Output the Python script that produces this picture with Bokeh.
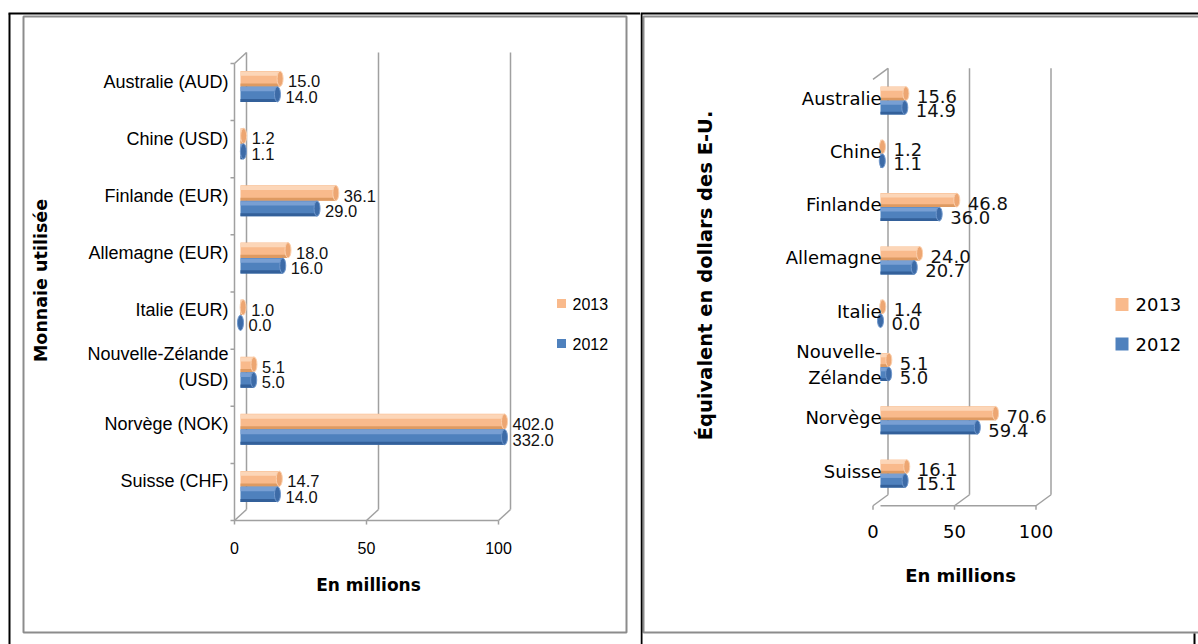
import math
from bokeh.plotting import figure
from bokeh.models import Range1d, ColumnDataSource
from bokeh.layouts import row
from bokeh.embed import file_html
from bokeh.resources import INLINE
from bokeh.core.properties import value

# ---------------- data ----------------
left_categories = ["Australie (AUD)", "Chine (USD)", "Finlande (EUR)", "Allemagne (EUR)",
                   "Italie (EUR)", "Nouvelle-Zélande\n(USD)", "Norvège (NOK)", "Suisse (CHF)"]
left_2013 = [15.0, 1.2, 36.1, 18.0, 1.0, 5.1, 402.0, 14.7]
left_2012 = [14.0, 1.1, 29.0, 16.0, 0.0, 5.0, 332.0, 14.0]

right_categories = ["Australie", "Chine", "Finlande", "Allemagne", "Italie",
                    "Nouvelle-\nZélande", "Norvège", "Suisse"]
right_2013 = [15.6, 1.2, 46.8, 24.0, 1.4, 5.1, 70.6, 16.1]
right_2012 = [14.9, 1.1, 36.0, 20.7, 0.0, 5.0, 59.4, 15.1]

x_ticks = [0, 50, 100]
x_max = 100
series_names = ["2013", "2012"]
x_title = "En millions"
left_y_title = "Monnaie utilisée"
right_y_title = "Équivalent en dollars des E-U."

# ---------------- styles ----------------
ORANGE = dict(main="#F9BA8C", light="#FCD6B8", dark="#DE9A62", cap="#EDA672", rim="#FBD0AE")
BLUE = dict(main="#4F81BD", light="#789FD3", dark="#33609A", cap="#3D6BA7", rim="#6F97CC")
GRID = "#a0a0a0"
FRAME = "#8c8c8c"
H = 644

LEFT = dict(W=640, x0=240, sx=2.64, y0=86, sy=57.14, hx=6, hy=5.5, bh=15.5,
            lab_dx=8, lab_dy=2.5, lab_font="Liberation Sans", lab_size="16.5px",
            cat_dx=-6, cat_dy=-5, cat_font="Liberation Sans", cat_size="18px", cat_lh=1.3,
            tick_font="Liberation Sans", tick_size="16px", tick_dy=27, front_wall=True,
            title_font="DejaVu Sans", xt=(368, 584), xt_size="17px",
            yt=(40, 280), yt_size="17.5px", ytitle=left_y_title,
            leg_sq=(561, 9), leg_x=572, leg_y=(303, 343), leg_font="Liberation Sans", leg_size="16px",
            cap_w=6)
RIGHT = dict(W=558, x0=240, sx=1.63, y0=100, sy=53.3, hx=7.5, hy=5.5, bh=14,
             lab_dx=11, lab_dy=3, lab_font="DejaVu Sans", lab_size="18px",
             cat_dx=1, cat_dy=-2.5, cat_font="DejaVu Sans", cat_size="18px", cat_lh=1.25,
             tick_font="DejaVu Sans", tick_size="18px", tick_dy=26, front_wall=False,
             title_font="DejaVu Sans", xt=(320, 575), xt_size="18px",
             yt=(65, 275), yt_size="19.5px", ytitle=right_y_title,
             leg_sq=(481.5, 13), leg_x=495, leg_y=(304, 343.5), leg_font="DejaVu Sans", leg_size="18px",
             cap_w=6)


def make_panel(cfg, categories, v2013, v2012):
    W = cfg["W"]
    sx, sy, x0, y0 = cfg["sx"], cfg["sy"], cfg["x0"], cfg["y0"]
    hx, hy = cfg["hx"] / sx, cfg["hy"] / sy
    n = len(categories)
    p = figure(width=W, height=H,
               x_range=Range1d(-x0 / sx, (W - x0) / sx),
               y_range=Range1d((H - y0) / sy, -y0 / sy),
               x_axis_type=None, y_axis_type=None,
               output_backend="svg", toolbar_location=None,
               min_border=0, outline_line_color=None,
               background_fill_color="white", border_fill_color="white")
    p.extra_x_ranges = {"px": Range1d(0, W)}
    p.extra_y_ranges = {"px": Range1d(H, 0)}

    # ---- 3D walls ----
    y_top_b = -0.5 - hy
    y_bot_b = n - 0.5 - hy
    y_top_f = -0.5 + hy
    y_bot_f = n - 0.5 + hy
    segs = dict(x0=[], y0=[], x1=[], y1=[])

    def seg(a, b, c, d):
        segs["x0"].append(a); segs["y0"].append(b); segs["x1"].append(c); segs["y1"].append(d)

    for t in x_ticks:
        seg(t + hx, y_top_b, t + hx, y_bot_b)           # back wall line
        seg(t - hx, y_bot_f, t + hx, y_bot_b)           # floor diagonal
        seg(t - hx, y_bot_f, t - hx, y_bot_f + 4 / sy)  # tick mark
    floor_start = -hx if cfg["front_wall"] else 0
    seg(floor_start, y_bot_f, x_max - hx, y_bot_f)
    seg(-hx, y_top_f, hx, y_top_b)                      # top slant
    if cfg["front_wall"]:
        seg(-hx, y_top_f, -hx, y_bot_f)
        for k in range(n + 1):
            yk = k - 0.5 + hy
            seg(-hx, yk, -hx - 4 / sx, yk)
    p.segment(x0="x0", y0="y0", x1="x1", y1="y1", source=ColumnDataSource(segs),
              line_color=GRID, line_width=1.5)

    # ---- bars ----
    bh = cfg["bh"] / sy
    for name, vals, col, off in [(series_names[0], v2013, ORANGE, -bh / 2),
                                 (series_names[1], v2012, BLUE, bh / 2)]:
        yc = [i + off for i in range(n)]
        vc = [min(v, x_max) for v in vals]
        p.hbar(y=yc, left=0, right=vc, height=bh, fill_color=col["main"], line_color=None)
        p.hbar(y=[y - bh * 0.33 for y in yc], left=0, right=vc, height=bh * 0.28,
               fill_color=col["light"], line_color=None)
        p.hbar(y=[y + bh * 0.40 for y in yc], left=0, right=vc, height=bh * 0.2,
               fill_color=col["dark"], line_color=None)
        p.ellipse(x=vc, y=yc, width=cfg["cap_w"], width_units="screen", height=bh * 0.98,
                  fill_color=col["cap"], line_color=col["rim"], line_width=1)
        p.text(x=vc, y=[y + cfg["lab_dy"] / sy for y in yc], text=[f"{v:.1f}" for v in vals],
               x_offset=cfg["lab_dx"], text_align="left", text_baseline="middle",
               text_font=value(cfg["lab_font"]), text_font_size=cfg["lab_size"], text_color="#111111")

    # ---- category labels ----
    cat_x = -hx if cfg["front_wall"] else 0
    p.text(x=[cat_x] * n, y=[i + cfg["cat_dy"] / sy for i in range(n)], text=categories,
           x_offset=cfg["cat_dx"], text_align="right", text_baseline="middle",
           text_font=value(cfg["cat_font"]), text_font_size=cfg["cat_size"],
           text_line_height=cfg["cat_lh"], text_color="#000000")

    # ---- x tick labels ----
    p.text(x=[t - hx for t in x_ticks], y=[y_bot_f + cfg["tick_dy"] / sy] * len(x_ticks),
           text=[str(t) for t in x_ticks], text_align="center", text_baseline="middle",
           text_font=value(cfg["tick_font"]), text_font_size=cfg["tick_size"], text_color="#000000")

    # ---- axis titles ----
    p.text(x=[cfg["xt"][0]], y=[cfg["xt"][1]], text=[x_title], x_range_name="px", y_range_name="px",
           text_align="center", text_baseline="middle", text_font=value(cfg["title_font"]),
           text_font_style="bold", text_font_size=cfg["xt_size"], text_color="#000000")
    p.text(x=[cfg["yt"][0]], y=[cfg["yt"][1]], text=[cfg["ytitle"]], angle=math.pi / 2,
           x_range_name="px", y_range_name="px",
           text_align="center", text_baseline="middle", text_font=value(cfg["title_font"]),
           text_font_style="bold", text_font_size=cfg["yt_size"], text_color="#000000")

    # ---- legend ----
    sqx, sqs = cfg["leg_sq"]
    p.rect(x=[sqx, sqx], y=list(cfg["leg_y"]), width=sqs, height=sqs,
           width_units="screen", height_units="screen",
           fill_color=[ORANGE["main"], BLUE["main"]], line_color=None,
           x_range_name="px", y_range_name="px")
    p.text(x=[cfg["leg_x"]] * 2, y=list(cfg["leg_y"]), text=series_names,
           x_range_name="px", y_range_name="px", text_align="left", text_baseline="middle",
           text_font=value(cfg["leg_font"]), text_font_size=cfg["leg_size"], text_color="#000000")
    return p


pL = make_panel(LEFT, left_categories, left_2013, left_2012)
pR = make_panel(RIGHT, right_categories, right_2013, right_2012)

# ---- table borders and chart frames ----
pL.quad(left=[23], right=[626], top=[16], bottom=[632], fill_alpha=0, line_color=FRAME, line_width=2,
        x_range_name="px", y_range_name="px")
pL.segment(x0=[8, 9], y0=[13, 13], x1=[640, 9], y1=[13, 644], line_color="black", line_width=2,
           x_range_name="px", y_range_name="px")
pR.quad(left=[3], right=[600], top=[16], bottom=[632], fill_alpha=0, line_color=FRAME, line_width=2,
        x_range_name="px", y_range_name="px")
pR.segment(x0=[0, 1, 554], y0=[13, 13, 633], x1=[558, 1, 554], y1=[13, 644, 644], line_color="black",
           line_width=2, x_range_name="px", y_range_name="px")

layout = row(pL, pR, spacing=0)
open("out.html", "w").write(file_html(layout, INLINE))
